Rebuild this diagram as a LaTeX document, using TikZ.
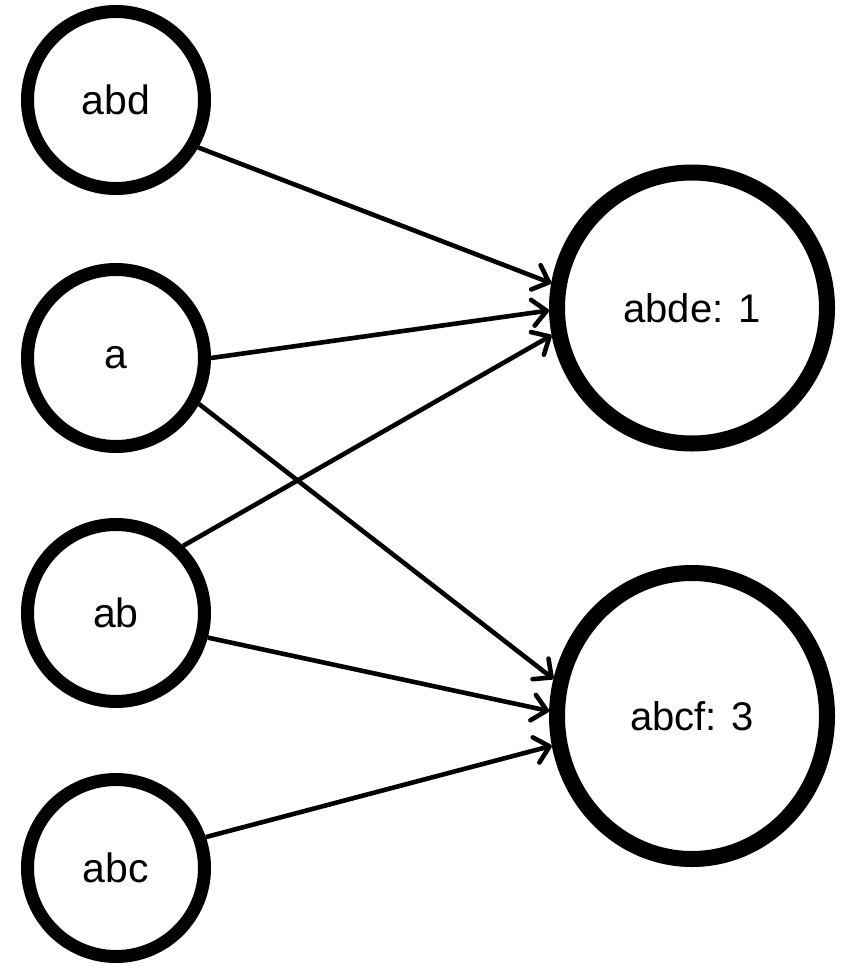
\documentclass[tikz,border=0pt]{standalone}
\usepackage{fontspec}
\setmainfont{Liberation Sans}
\usetikzlibrary{arrows.meta,shapes.geometric}
\begin{document}
\begin{tikzpicture}[x=1pt,y=-1pt,
  smallnode/.style={circle, draw, line width=13pt, minimum size=177pt, inner sep=0pt,
    font=\fontsize{41}{48}\selectfont},
  bignode/.style={ellipse, draw, line width=16pt, inner sep=0pt,
    font=\fontsize{40}{46}\selectfont},
  conn/.style={line width=4.6pt, -{Straight Barb[length=14pt,width=26pt,round]}}]
\useasboundingbox (0,0) rectangle (844,964);
\node[smallnode] (abd) at (116,100) {abd};
\node[smallnode] (a)   at (116,358) {a};
\node[smallnode] (ab)  at (116,613) {ab};
\node[smallnode] (abc) at (116,868) {abc};
\node[bignode, minimum width=270pt, minimum height=271pt] (abde) at (692,308) {abde: 1};
\node[bignode, minimum width=270pt, minimum height=286pt] (abcf) at (692,716) {abcf: 3};
\draw[conn] (abd.-30) -- (abde.170);
\draw[conn] (a.0) -- (abde.181);
\draw[conn] (ab.45) -- (abde.191);
\draw[conn] (a.-29) -- (abcf.165);
\draw[conn] (ab.-15) -- (abcf.178);
\draw[conn] (abc.19) -- (abcf.192);
\end{tikzpicture}
\end{document}
